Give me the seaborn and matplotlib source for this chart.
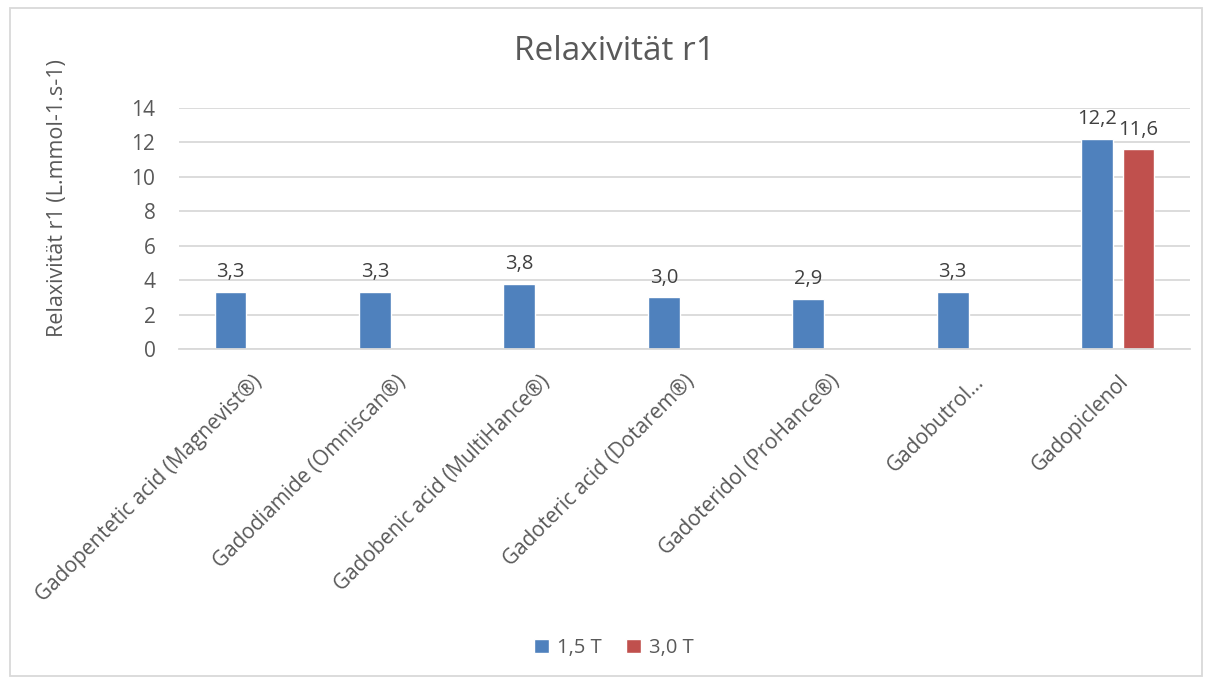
import matplotlib
matplotlib.use("Agg")
import matplotlib.pyplot as plt
import seaborn as sns
import pandas as pd
from matplotlib.patches import Rectangle, Patch

categories = [
    "Gadopentetic acid (Magnevist®)",
    "Gadodiamide (Omniscan®)",
    "Gadobenic acid (MultiHance®)",
    "Gadoteric acid (Dotarem®)",
    "Gadoteridol (ProHance®)",
    "Gadobutrol…",
    "Gadopiclenol",
]
series_names = ["1,5 T", "3,0 T"]
values_15T = [3.3, 3.3, 3.8, 3.0, 2.9, 3.3, 12.2]
values_30T = [None, None, None, None, None, None, 11.6]
colors = ["#4F81BD", "#C0504D"]
yticks = [0, 2, 4, 6, 8, 10, 12, 14]

rows = []
for c, v in zip(categories, values_15T):
    if v is not None:
        rows.append({"cat": c, "series": series_names[0], "val": v})
for c, v in zip(categories, values_30T):
    if v is not None:
        rows.append({"cat": c, "series": series_names[1], "val": v})
df = pd.DataFrame(rows)

sns.set_style("white")
plt.rcParams["font.family"] = ["Open Sans", "DejaVu Sans"]
text_color = "#595959"

fig = plt.figure(figsize=(12.12, 6.82), dpi=100)
ax = fig.add_axes([179 / 1212, 1 - 349 / 682, (1190 - 179) / 1212, (349 - 108) / 682])

sns.barplot(data=df, x="cat", y="val", hue="series", order=categories,
            hue_order=series_names, palette=colors, width=0.574, gap=0.23,
            saturation=1, ax=ax, legend=False, errorbar=None)

for cont in ax.containers:
    ax.bar_label(cont, fmt=lambda v: f"{v:.1f}".replace(".", ","), padding=7,
                 fontsize=14.5, color="#404040")

ax.set_ylim(0, 14)
ax.set_yticks(yticks)
ax.set_yticklabels([str(t) for t in yticks], fontsize=15, color=text_color)
ax.set_xlim(-0.5, len(categories) - 0.5)
ax.grid(axis="y", color="#D9D9D9", linewidth=1.3)
ax.set_axisbelow(True)
for s in ["top", "right", "left"]:
    ax.spines[s].set_visible(False)
ax.spines["bottom"].set_color("#D9D9D9")
ax.spines["bottom"].set_linewidth(1.3)
ax.tick_params(axis="y", length=0, pad=17)
ax.tick_params(axis="x", length=0, pad=16)
ax.set_xlabel("")
ax.set_ylabel("")
plt.setp(ax.get_xticklabels(), rotation=45, ha="right", rotation_mode="anchor",
         fontsize=15, color=text_color)

fig.text(57 / 1212, 1 - 198 / 682, "Relaxivität r1 (L.mmol-1.s-1)", rotation=90,
         ha="center", va="center", fontsize=15.5, color=text_color)

fig.text(614 / 1212, 1 - 52 / 682, "Relaxivität r1", ha="center", va="center",
         fontsize=24, color=text_color)

handles = [Patch(facecolor=colors[0], label=series_names[0]),
           Patch(facecolor=colors[1], label=series_names[1])]
fig.legend(handles=handles, loc="center", bbox_to_anchor=(614 / 1212, 1 - 648 / 682),
           ncol=2, frameon=False, fontsize=14.5, handlelength=0.75, handleheight=0.75,
           handletextpad=0.4, columnspacing=1.2, labelcolor=text_color)

fig.add_artist(Rectangle((10 / 1212, 1 - 676 / 682), 1192 / 1212, 668 / 682,
                         transform=fig.transFigure, fill=False, edgecolor="#D9D9D9",
                         linewidth=1.3))

fig.savefig("out.png", dpi=100, facecolor="white")
